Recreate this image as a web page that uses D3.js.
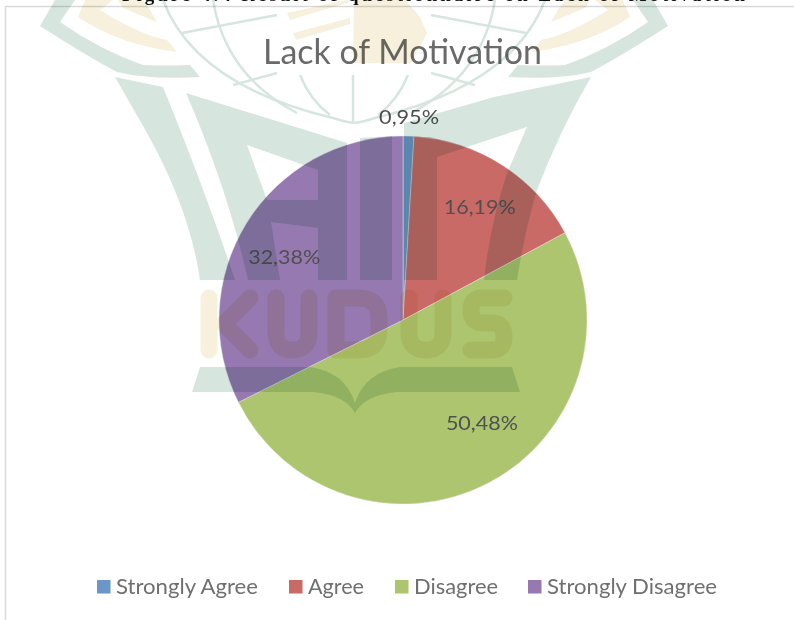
<!DOCTYPE html>
<html><head><meta charset="utf-8">
<script src="https://cdn.jsdelivr.net/npm/d3@7"></script>
<style>html,body{margin:0;padding:0;background:#fff}svg{display:block}text{font-family:Lato,"Open Sans",sans-serif}</style>
</head><body><svg id="c" width="794" height="620"></svg>
<script>
const categories = ["Strongly Agree","Agree","Disagree","Strongly Disagree"];
const values = [0.95,16.19,50.48,32.38];
const labels = ["0,95%","16,19%","50,48%","32,38%"];
const colors = ["#6a96c8","#c96a67","#adc56f","#9579b0"];
const chartTitle = "Lack of Motivation";
const pageCaption = "Figure 4.4 Result of questionnaire on Lack of Motivation";

const svg = d3.select("#c");
const cx = 403, cy = 320, R = 184;

// page caption cut off by the top edge, and chart frame
svg.append("text").attr("x",122).attr("y",0.5).attr("textLength",623).attr("lengthAdjust","spacing")
  .style("font-family","'Liberation Serif',serif").style("font-weight","700").style("font-size","19px").attr("fill","#111").text(pageCaption);
svg.append("path").attr("d","M794,6.5H5.5V620").attr("fill","none").attr("stroke","#d9d9d9").attr("stroke-width",1.5);

svg.append("text").attr("x",402.5).attr("y",64).attr("text-anchor","middle").attr("textLength",279).attr("lengthAdjust","spacingAndGlyphs")
  .style("font-size","35px").attr("fill","#6a6a6a").text(chartTitle);

const pie = d3.pie().sort(null).value(d=>d)(values);
const arc = d3.arc().innerRadius(0).outerRadius(R);
const g = svg.append("g").attr("transform",`translate(${cx},${cy})`);
g.selectAll("path").data(pie).join("path").attr("d",arc).attr("fill",(d,i)=>colors[i]).attr("stroke","#e8e8e8").attr("stroke-width",0.4);

// label anchoring: radius along the slice, plus a small nudge as in the source chart
const labelRadius = [203,137,130,135];
const labelNudge = [[0,0],[3,2],[19,-12],[-4,8]];
g.selectAll("text.l").data(pie).join("text").attr("class","l")
  .attr("transform",(d,i)=>{const a=(d.startAngle+d.endAngle)/2,r=labelRadius[i];
    return `translate(${Math.sin(a)*r+labelNudge[i][0]},${-Math.cos(a)*r+labelNudge[i][1]})`;})
  .attr("text-anchor","middle").attr("dy","0.35em").style("font-size","20px").attr("fill","#505050")
  .attr("textLength",(d,i)=>i===0?60:72).attr("lengthAdjust","spacingAndGlyphs")
  .text((d,i)=>labels[i]);

// legend
const legendSwatchX = [97,289,395,528];
const legendTextEnd = [258,364,498,717];
const lg = svg.append("g");
categories.forEach((c,i)=>{
  lg.append("rect").attr("x",legendSwatchX[i]).attr("y",580).attr("width",13.5).attr("height",13.5).attr("fill",colors[i]);
  const x0 = legendSwatchX[i]+19;
  lg.append("text").attr("x",x0).attr("y",594).attr("textLength",legendTextEnd[i]-x0).attr("lengthAdjust","spacingAndGlyphs")
    .style("font-size","21px").attr("fill","#6f6f6f").text(c);
});

// watermark (page background of the source document), multiplied over everything
const wm = svg.append("g").style("mix-blend-mode","multiply").style("pointer-events","none");
const green = "#d6e6df", cream = "#f6f0dd";
function halves(fn){ fn(wm.append("g")); fn(wm.append("g").attr("transform","translate(708,0) scale(-1,1)")); }
halves(s=>{
  // outer chevron band
  s.append("path").attr("fill",green).attr("d","M55,0 L40,26 Q85,55 117,72 Q150,80 200,77 L190,65 Q165,66 143,65 Q100,50 60,22 L75,0Z");
  // cream band and wedge
  s.append("path").attr("fill",cream).attr("d","M85,0 L78,17 Q120,45 177,52 L167,40 Q140,35 100,10 L113,0Z");
  s.append("path").attr("fill",cream).attr("d","M118,0 L123,8 L157,22 L150,10 L143,0Z");
  // globe lines
  const st = p=>s.append("path").attr("fill","none").attr("stroke",green).attr("stroke-width",2.5).attr("d",p);
  st("M163,0 Q195,85 333,118 Q345,122 354,123");
  st("M213,0 Q225,75 297,113");
  st("M300,75 Q310,100 330,115");
  st("M182,33 L277,15");
  st("M233,85 L277,73");
});
wm.append("path").attr("fill","none").attr("stroke",green).attr("stroke-width",2.5).attr("d","M353,75V122");
// centre map block and strips
wm.append("path").attr("fill",cream).attr("d","M354,0H405L420,17L427,33L411,63H353Z");
wm.append("path").attr("fill",cream).attr("d","M287,13L347,0L350,2L290,20Z");
wm.append("path").attr("fill",cream).attr("d","M293,33L350,18L350,24L296,40Z");
// large letters
wm.append("path").attr("fill",green).attr("d","M115,77L163,87Q205,190 235,280H200Q190,210 147,133Z");
wm.append("path").attr("fill",green).attr("fill-rule","evenodd").attr("d","M186,93L347,143V280H318V228L271,222L280,280H248Q228,190 186,93Z M247,145L318,170V200H267Z");
wm.append("path").attr("fill",green).attr("d","M360,138L392,136V280H360Z");
wm.append("path").attr("fill",green).attr("d","M404,123L494,97L591,77Q560,130 537,190Q525,230 517,280H484Q490,225 507,173L527,127L437,157V280H404Z");
// KUDUS lettering
const ks = p=>wm.append("path").attr("fill","none").attr("stroke",cream).attr("stroke-width",17).attr("stroke-linejoin","round").attr("stroke-linecap","round").attr("d",p);
ks("M209,298V350"); ks("M250,298L224,324L250,350");
ks("M276,298V332Q276,350 292,350Q309,350 309,332V298");
ks("M336,298V350H358Q379,350 379,330V318Q379,298 358,298Z");
ks("M409,298V332Q409,350 426,350Q443,350 443,332V298");
ks("M504,298H482Q471,298 471,310Q471,323 483,323H493Q504,323 504,337Q504,350 492,350H471");
// open book
wm.append("path").attr("fill",green).attr("d","M200,367H310Q345,372 355,403Q365,372 400,367H512L520,392H397Q365,395 355,413Q345,395 313,392H192Z");
</script></body></html>
